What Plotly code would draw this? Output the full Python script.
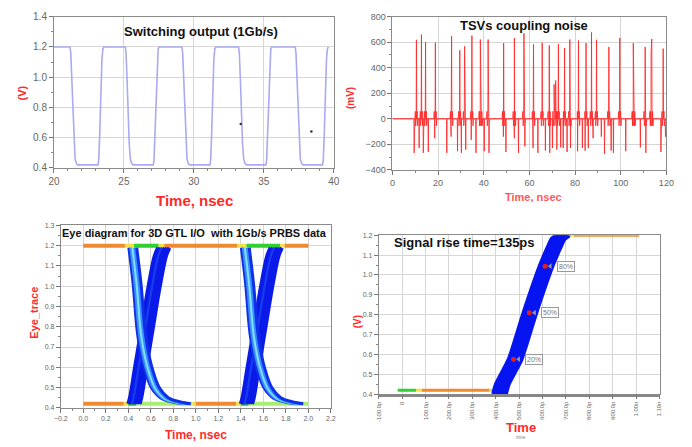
import plotly.graph_objects as go

W, H = 692, 447
RED = "#ff2a2a"
FONT = "Arial, Liberation Sans, sans-serif"

# ---------------- Switching output (1 Gb/s) ----------------
sw_high, sw_low = 1.2, 0.42
sw_fall_start = [21.15, 25.1, 29.15, 33.2, 37.25]
sw_rise_start = [23.15, 27.1, 31.15, 35.15, 39.2]
fall_dt = [0.0, 0.05, 0.12, 0.2, 0.28, 0.36, 0.45, 0.55]
fall_v = [1.2, 1.16, 1.0, 0.75, 0.56, 0.46, 0.43, 0.42]
rise_dt = [0.0, 0.05, 0.12, 0.2, 0.28, 0.35, 0.42]
rise_v = [0.42, 0.45, 0.62, 0.9, 1.12, 1.19, 1.2]
stray_t = [33.35, 38.4]
stray_v = [0.69, 0.64]

# ---------------- TSV coupling noise (mV) ----------------
pos_t = [10.5, 12.7, 14.5, 18.8, 25.9, 29.5, 31.6, 34.8, 38.5, 38.8, 41.9, 48.7,
         53.4, 57.6, 61.8, 65.6, 68.7, 70.8, 71.5, 72.7, 75.4, 77.7, 81.5, 84.8,
         87.2, 89.4, 94.8, 99.6, 105.5, 105.8, 110.7, 113.6, 113.3, 118.6]
pos_v = [619, 660, 601, 596, 647, 537, 568, 652, 621, 460, 621, 593,
         632, 670, 583, 596, 575, 270, 300, 585, 555, 621, 614, 593,
         677, 619, 563, 634, 593, 427, 563, 626, 524, 550]
neg_t = [9.5, 11.7, 13.5, 15.7, 18.5, 23.8, 25.7, 28.5, 30.2, 32.1, 34.5, 36.6,
         40.2, 42.3, 48.6, 49.7, 53.4, 55.2, 58.0, 61.6, 63.7, 67.0, 68.9, 70.1,
         72.0, 73.7, 74.8, 76.5, 78.0, 81.1, 83.2, 84.4, 85.8, 87.9, 91.5, 92.9,
         95.8, 96.8, 102.2, 108.6, 111.0, 117.6, 119.6]
neg_v = [-267, -229, -267, -260, -152, -267, -140, -254, -267, -241, -165, -267,
         -254, -267, -140, -260, -152, -267, -216, -229, -267, -249, -267, -229,
         -241, -224, -229, -260, -229, -254, -229, -249, -229, -152, -140, -275,
         -249, -267, -254, -224, -267, -260, -140]
ring_hi, ring_lo = 58, -55

# ---------------- Eye diagram ----------------
eye_ui = [0.0, 1.0]
eye_rise_x = [0.45, 0.465, 0.51, 0.57, 0.63, 0.685, 0.715]
eye_rise_y = [0.42, 0.45, 0.6, 0.8, 1.0, 1.15, 1.19]
eye_fall_x = [0.44, 0.46, 0.48, 0.51, 0.535, 0.575, 0.64, 0.72, 0.82, 0.92]
eye_fall_y = [1.19, 1.1, 1.0, 0.8, 0.7, 0.6, 0.5, 0.45, 0.43, 0.42]
rise_jitter = [-0.05, -0.03, -0.01, 0.01, 0.03, 0.05]
rise_colors = ["#0a1ae8", "#0a1ae8", "#1a3cf0", "#0a1ae8", "#0a1ae8", "#0a1ae8"]
fall_jitter = [-0.035, -0.018, 0.0, 0.018, 0.035]
fall_colors = ["#1030e8", "#3a8cff", "#7fe0ff", "#3a8cff", "#1030e8"]
eye_hi, eye_lo = 1.2, 0.42
eye_top_seg = [(0.0, 0.37, "#f08a30"), (0.37, 0.45, "#f4e040"), (0.45, 0.67, "#30d030"),
               (0.67, 0.72, "#f4e040"), (0.72, 1.37, "#f08a30"), (1.37, 1.45, "#f4e040"),
               (1.45, 1.75, "#30d030"), (1.75, 1.79, "#f4e040"), (1.79, 2.0, "#f08a30")]
eye_bot_seg = [(0.0, 0.36, "#f08a30"), (0.36, 0.40, "#f4e040"), (0.40, 0.47, "#20b040"),
               (0.47, 0.97, "#a8ee70"), (0.97, 1.0, "#f4e040"), (1.0, 1.36, "#f08a30"),
               (1.36, 1.40, "#f4e040"), (1.40, 1.47, "#20b040"), (1.47, 2.0, "#a8ee70")]

# ---------------- Rise time (ps) ----------------
rt_x = [416, 428, 483, 546, 615, 646, 666, 688]
rt_y = [0.40, 0.45, 0.576, 0.81, 1.044, 1.13, 1.18, 1.2]
rt_jitter = [-25, -15, -5, 5, 15, 25]
rt_lo, rt_hi = 0.42, 1.2
rt_lo_seg = [(-19, 59, "#30d030"), (59, 84, "#f4e040"), (84, 373, "#f08a30"), (373, 405, "#c8e060")]
rt_hi_seg = [(700, 720, "#30d030"), (720, 733, "#f4e040"), (733, 1013, "#f08a30")]
mark_x = [476, 543.5, 611]
mark_y = [0.576, 0.81, 1.044]
mark_txt = ["20%", "50%", "80%"]
rt_ticks = list(range(-100, 1101, 100))
rt_ticktext = ["-100.0p", "0", "100.0p", "200.0p", "300.0p", "400.0p", "500.0p",
               "600.0p", "700.0p", "800.0p", "900.0p", "1.00n", "1.10n"]

fig = go.Figure()

# Panel A: switching waveform
sw_t, sw_v = [20.0], [sw_high]
for tf, tr in zip(sw_fall_start, sw_rise_start):
    sw_t += [tf + d for d in fall_dt]
    sw_v += fall_v
    sw_t += [tr + d for d in rise_dt]
    sw_v += rise_v
fig.add_trace(go.Scatter(x=sw_t, y=sw_v, mode="lines", line=dict(color="#a9aaf2", width=1.6),
                         xaxis="x", yaxis="y"))
fig.add_trace(go.Scatter(x=stray_t, y=stray_v, mode="markers",
                         marker=dict(color="#333", size=2.5), xaxis="x", yaxis="y"))

# Panel B: coupling noise spikes
pts = [(0.0, 0.0), (120.0, 0.0)]
for t, v in zip(pos_t, pos_v):
    pts += [(t - 0.7, 0), (t - 0.5, ring_hi), (t - 0.35, ring_lo), (t - 0.12, 0), (t, v),
            (t + 0.12, 0), (t + 0.35, ring_hi), (t + 0.5, ring_lo), (t + 0.7, 0)]
for t, v in zip(neg_t, neg_v):
    pts += [(t - 0.12, 0), (t, v), (t + 0.12, 0)]
pts.sort()
fig.add_trace(go.Scatter(x=[p[0] for p in pts], y=[p[1] for p in pts], mode="lines",
                         line=dict(color="rgba(255,40,40,0.85)", width=1), xaxis="x2", yaxis="y2"))
fig.add_trace(go.Scatter(x=[0, 120], y=[0, 0], mode="lines",
                         line=dict(color="rgba(255,60,60,0.8)", width=1), xaxis="x2", yaxis="y2"))

# Panel C: eye diagram
for segs, lvl in ((eye_top_seg, eye_hi), (eye_bot_seg, eye_lo)):
    for x0, x1, c in segs:
        fig.add_trace(go.Scatter(x=[x0, x1], y=[lvl, lvl], mode="lines",
                                 line=dict(color=c, width=4), xaxis="x3", yaxis="y3"))
for u in eye_ui:
    for j, c in zip(rise_jitter, rise_colors):
        fig.add_trace(go.Scatter(x=[u + xx + j for xx in eye_rise_x], y=eye_rise_y, mode="lines",
                                 line=dict(color=c, width=4, shape="spline"), xaxis="x3", yaxis="y3"))
    for j, c in zip(fall_jitter, fall_colors):
        fig.add_trace(go.Scatter(x=[u + xx + j for xx in eye_fall_x], y=eye_fall_y, mode="lines",
                                 line=dict(color=c, width=3, shape="spline"), xaxis="x3", yaxis="y3"))

# Panel D: rise-time measurement
for segs, lvl in ((rt_lo_seg, rt_lo), (rt_hi_seg, rt_hi)):
    for x0, x1, c in segs:
        fig.add_trace(go.Scatter(x=[x0, x1], y=[lvl, lvl], mode="lines",
                                 line=dict(color=c, width=3), xaxis="x4", yaxis="y4"))
for j in rt_jitter:
    fig.add_trace(go.Scatter(x=[xx + j for xx in rt_x], y=rt_y, mode="lines",
                             line=dict(color="#0614f0", width=5, shape="spline", smoothing=0.5),
                             xaxis="x4", yaxis="y4"))
fig.add_trace(go.Scatter(x=mark_x, y=mark_y, mode="markers",
                         marker=dict(color="#e02020", size=5), xaxis="x4", yaxis="y4"))
fig.add_trace(go.Scatter(x=[m + 22 for m in mark_x], y=mark_y, mode="markers",
                         marker=dict(color="#9a9a9a", size=5, symbol="triangle-left"), xaxis="x4", yaxis="y4"))

annotations = []
for mx, my, tx in zip(mark_x, mark_y, mark_txt):
    annotations.append(dict(x=mx + 88, y=my, xref="x4", yref="y4", text=tx, showarrow=False,
                            font=dict(size=7, color="#777", family=FONT), bordercolor="#999",
                            borderwidth=1, borderpad=1, bgcolor="white"))


def note(x, y, text, size, color, bold=True, angle=0):
    annotations.append(dict(x=x / W, y=1 - y / H, xref="paper", yref="paper", text=text,
                            showarrow=False, textangle=angle,
                            font=dict(size=size, color=color, family=FONT,
                                      weight="bold" if bold else "normal"),
                            xanchor="center", yanchor="middle"))


note(198, 27, "Switching output (1Gb/s)", 13, "#111")
note(15, 90, "(V)", 11, RED, angle=-90)
note(192, 200, "Time, nsec", 15, RED)

note(528, 21, "TSVs coupling noise", 13, "#111")
note(351, 95, "(mV)", 10, RED, angle=-90)
note(538, 197, "Time, nsec", 11, "rgba(255,40,40,0.8)")

note(192, 234, "Eye diagram for 3D GTL I/O  with 1Gb/s PRBS data", 11, "#111")
note(28, 315, "Eye_trace", 11, RED, angle=-90)
note(193, 441, "Time, nsec", 12, RED)

note(468, 244, "Signal rise time=135ps", 13, "#111")
note(358, 325, "(V)", 10, RED, angle=-90)
note(525, 433, "Time", 13, RED)
note(525, 443, "time", 5, "#888", bold=False)


def ax(domain, rng, dtick=None, minor=None, fmt=None, size=10, anchor=None, **kw):
    d = dict(domain=domain, range=rng, showline=True, linecolor="#8a8a8a", linewidth=1,
             mirror=True, showgrid=True, gridcolor="#d6d6d6", gridwidth=1, zeroline=False,
             ticks="outside", ticklen=4, tickcolor="#777", anchor=anchor,
             tickfont=dict(size=size, color="#666", family=FONT))
    if dtick is not None:
        d["dtick"] = dtick
        d["tick0"] = rng[0]
    if minor is not None:
        d["minor"] = dict(dtick=minor, ticks="outside", ticklen=2, tickcolor="#888", showgrid=False)
    if fmt:
        d["tickformat"] = fmt
    d.update(kw)
    return d


fig.update_layout(
    width=W, height=H, margin=dict(l=0, r=0, t=0, b=0),
    paper_bgcolor="white", plot_bgcolor="white", showlegend=False,
    font=dict(family=FONT),
    xaxis=ax([48 / W, 334 / W], [20, 40], 5, 1, size=10, anchor="y"),
    yaxis=ax([1 - 167 / H, 1 - 12 / H], [0.4, 1.4], 0.2, 0.1, ".1f", size=10, anchor="x"),
    xaxis2=ax([394 / W, 674 / W], [0, 120], 20, 10, size=9, anchor="y2"),
    yaxis2=ax([1 - 169 / H, 1 - 12 / H], [-400, 800], 200, 100, size=9, anchor="x2"),
    xaxis3=ax([55 / W, 331 / W], [-0.2, 2.2], 0.2, 0.1, ".1f", size=7, anchor="y3"),
    yaxis3=ax([1 - 413 / H, 1 - 226 / H], [0.4, 1.3], 0.1, 0.05, ".1f", size=7, anchor="x3"),
    xaxis4=ax([380 / W, 667 / W], [-100, 1100], size=6, anchor="y4", tickmode="array",
              tickvals=rt_ticks, ticktext=rt_ticktext, tickangle=-90,
              minor=dict(dtick=50, tick0=-100, ticks="outside", ticklen=2, tickcolor="#888")),
    yaxis4=ax([1 - 399 / H, 1 - 236 / H], [0.4, 1.2], 0.1, 0.05, ".1f", size=7, anchor="x4"),
    annotations=annotations,
)

fig.write_html("out.html")
